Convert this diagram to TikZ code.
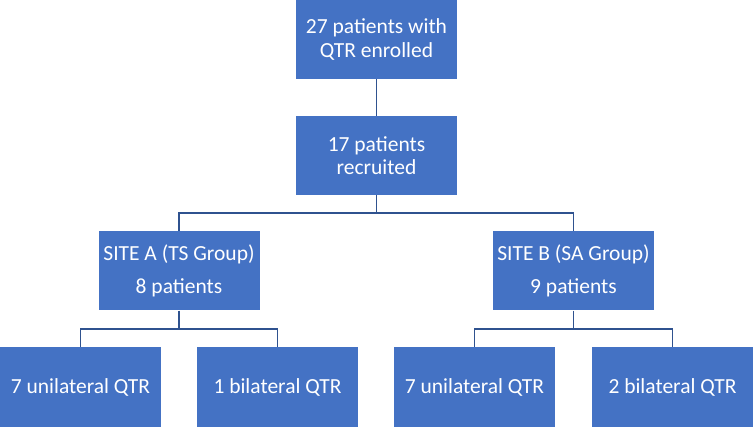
\documentclass[tikz,border=0pt]{standalone}
\usepackage{fontspec}
\setmainfont{Carlito}
\definecolor{boxblue}{HTML}{4472C4}
\definecolor{linkblue}{HTML}{2F528F}
\begin{document}
\begin{tikzpicture}[x=1pt,y=1pt,
  box/.style={rectangle, fill=boxblue, text=white, inner sep=0pt,
    minimum width=161pt, minimum height=79pt, align=center,
    font=\fontsize{21.5}{23.5}\selectfont},
  link/.style={draw=linkblue, line width=1.1pt}]
\useasboundingbox (0,0) rectangle (753,-427);
\node[box] (top) at (376.5,-39.5) {27 patients with\\QTR enrolled};
\node[box] (rec) at (376.5,-155.5) {17 patients\\recruited};
\node[box, font=\fontsize{21.5}{33}\selectfont] (sa) at (179,-271) {SITE A (TS Group)\\8 patients};
\node[box, font=\fontsize{21.5}{33}\selectfont] (sb) at (573.5,-271) {SITE B (SA Group)\\9 patients};
\node[box, minimum height=80pt] (a1) at (80.5,-387) {7 unilateral QTR};
\node[box, minimum height=80pt] (a2) at (277.5,-387) {1 bilateral QTR};
\node[box, minimum height=80pt] (b1) at (474.5,-387) {7 unilateral QTR};
\node[box, minimum height=80pt] (b2) at (672.5,-387) {2 bilateral QTR};
\coordinate (bus1) at (0,-213);
\coordinate (bus2) at (0,-329);
\draw[link] (top) -- (rec);
\draw[link] (rec.south) -- (rec.south |- bus1) -| (sa.north);
\draw[link] (rec.south |- bus1) -| (sb.north);
\draw[link] (sa.south) -- (sa.south |- bus2) -| (a1.north);
\draw[link] (sa.south |- bus2) -| (a2.north);
\draw[link] (sb.south) -- (sb.south |- bus2) -| (b1.north);
\draw[link] (sb.south |- bus2) -| (b2.north);
\end{tikzpicture}
\end{document}
